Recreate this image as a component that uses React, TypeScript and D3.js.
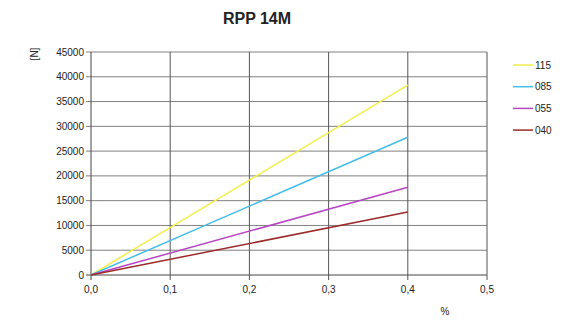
import React from "react";
import * as d3 from "d3";

const title = "RPP 14M";
const xValues = [0, 0.4];
const seriesNames = ["115", "085", "055", "040"];
const series115 = [0, 38300];
const series085 = [0, 27800];
const series055 = [0, 17700];
const series040 = [0, 12700];
const seriesColors = ["#f2ee4e", "#45bde6", "#b845c4", "#9c2a2a"];
const xTicks = [0, 0.1, 0.2, 0.3, 0.4, 0.5];
const yTicks = [0, 5000, 10000, 15000, 20000, 25000, 30000, 35000, 40000, 45000];

export default function App() {
  const W = 580, H = 322;
  const left = 91, right = 487, top = 52, bottom = 275;
  const x = d3.scaleLinear().domain([0, 0.5]).range([left, right]);
  const y = d3.scaleLinear().domain([0, 45000]).range([bottom, top]);
  const all = [series115, series085, series055, series040];
  const line = d3.line<[number, number]>().x(d => x(d[0])).y(d => y(d[1]));
  const font = "'Liberation Sans', Arial, sans-serif";
  const fmtX = (v: number) => v.toFixed(1).replace(".", ",");
  return (
    <svg width={W} height={H} style={{ position: "absolute", left: 0, top: 0, background: "#fff" }} fontFamily={font}>
      <rect width={W} height={H} fill="#fff" />
      <text x={257} y={24} textAnchor="middle" fontSize={16} fontWeight="bold" fill="#222">{title}</text>
      {yTicks.map(t => (
        <g key={"y" + t}>
          <line x1={left - 5} x2={right} y1={y(t)} y2={y(t)} stroke={t === 0 ? "#444" : "#808080"} strokeWidth={1} />
          <text x={left - 7} y={y(t)} dy="0.35em" textAnchor="end" fontSize={10} fill="#222">{t}</text>
        </g>
      ))}
      {xTicks.map(t => (
        <g key={"x" + t}>
          <line x1={x(t)} x2={x(t)} y1={top} y2={bottom + 5} stroke={t === 0 ? "#444" : "#555"} strokeWidth={1} />
          <text x={x(t)} y={bottom + 18} textAnchor="middle" fontSize={10} fill="#222">{fmtX(t)}</text>
        </g>
      ))}
      <text transform={`translate(38,${top + 2}) rotate(-90)`} textAnchor="middle" fontSize={10} fill="#222">[N]</text>
      <text x={445} y={315} textAnchor="middle" fontSize={10} fill="#222">%</text>
      {all.map((s, i) => (
        <path key={i} d={line(xValues.map((xv, j) => [xv, s[j]] as [number, number])) || ""} fill="none" stroke={seriesColors[i]} strokeWidth={1.5} />
      ))}
      {seriesNames.map((n, i) => {
        const ly = 65 + i * 21.7;
        return (
          <g key={n}>
            <line x1={513} x2={533} y1={ly} y2={ly} stroke={seriesColors[i]} strokeWidth={1.5} />
            <text x={535} y={ly} dy="0.35em" fontSize={10} fill="#222">{n}</text>
          </g>
        );
      })}
    </svg>
  );
}
